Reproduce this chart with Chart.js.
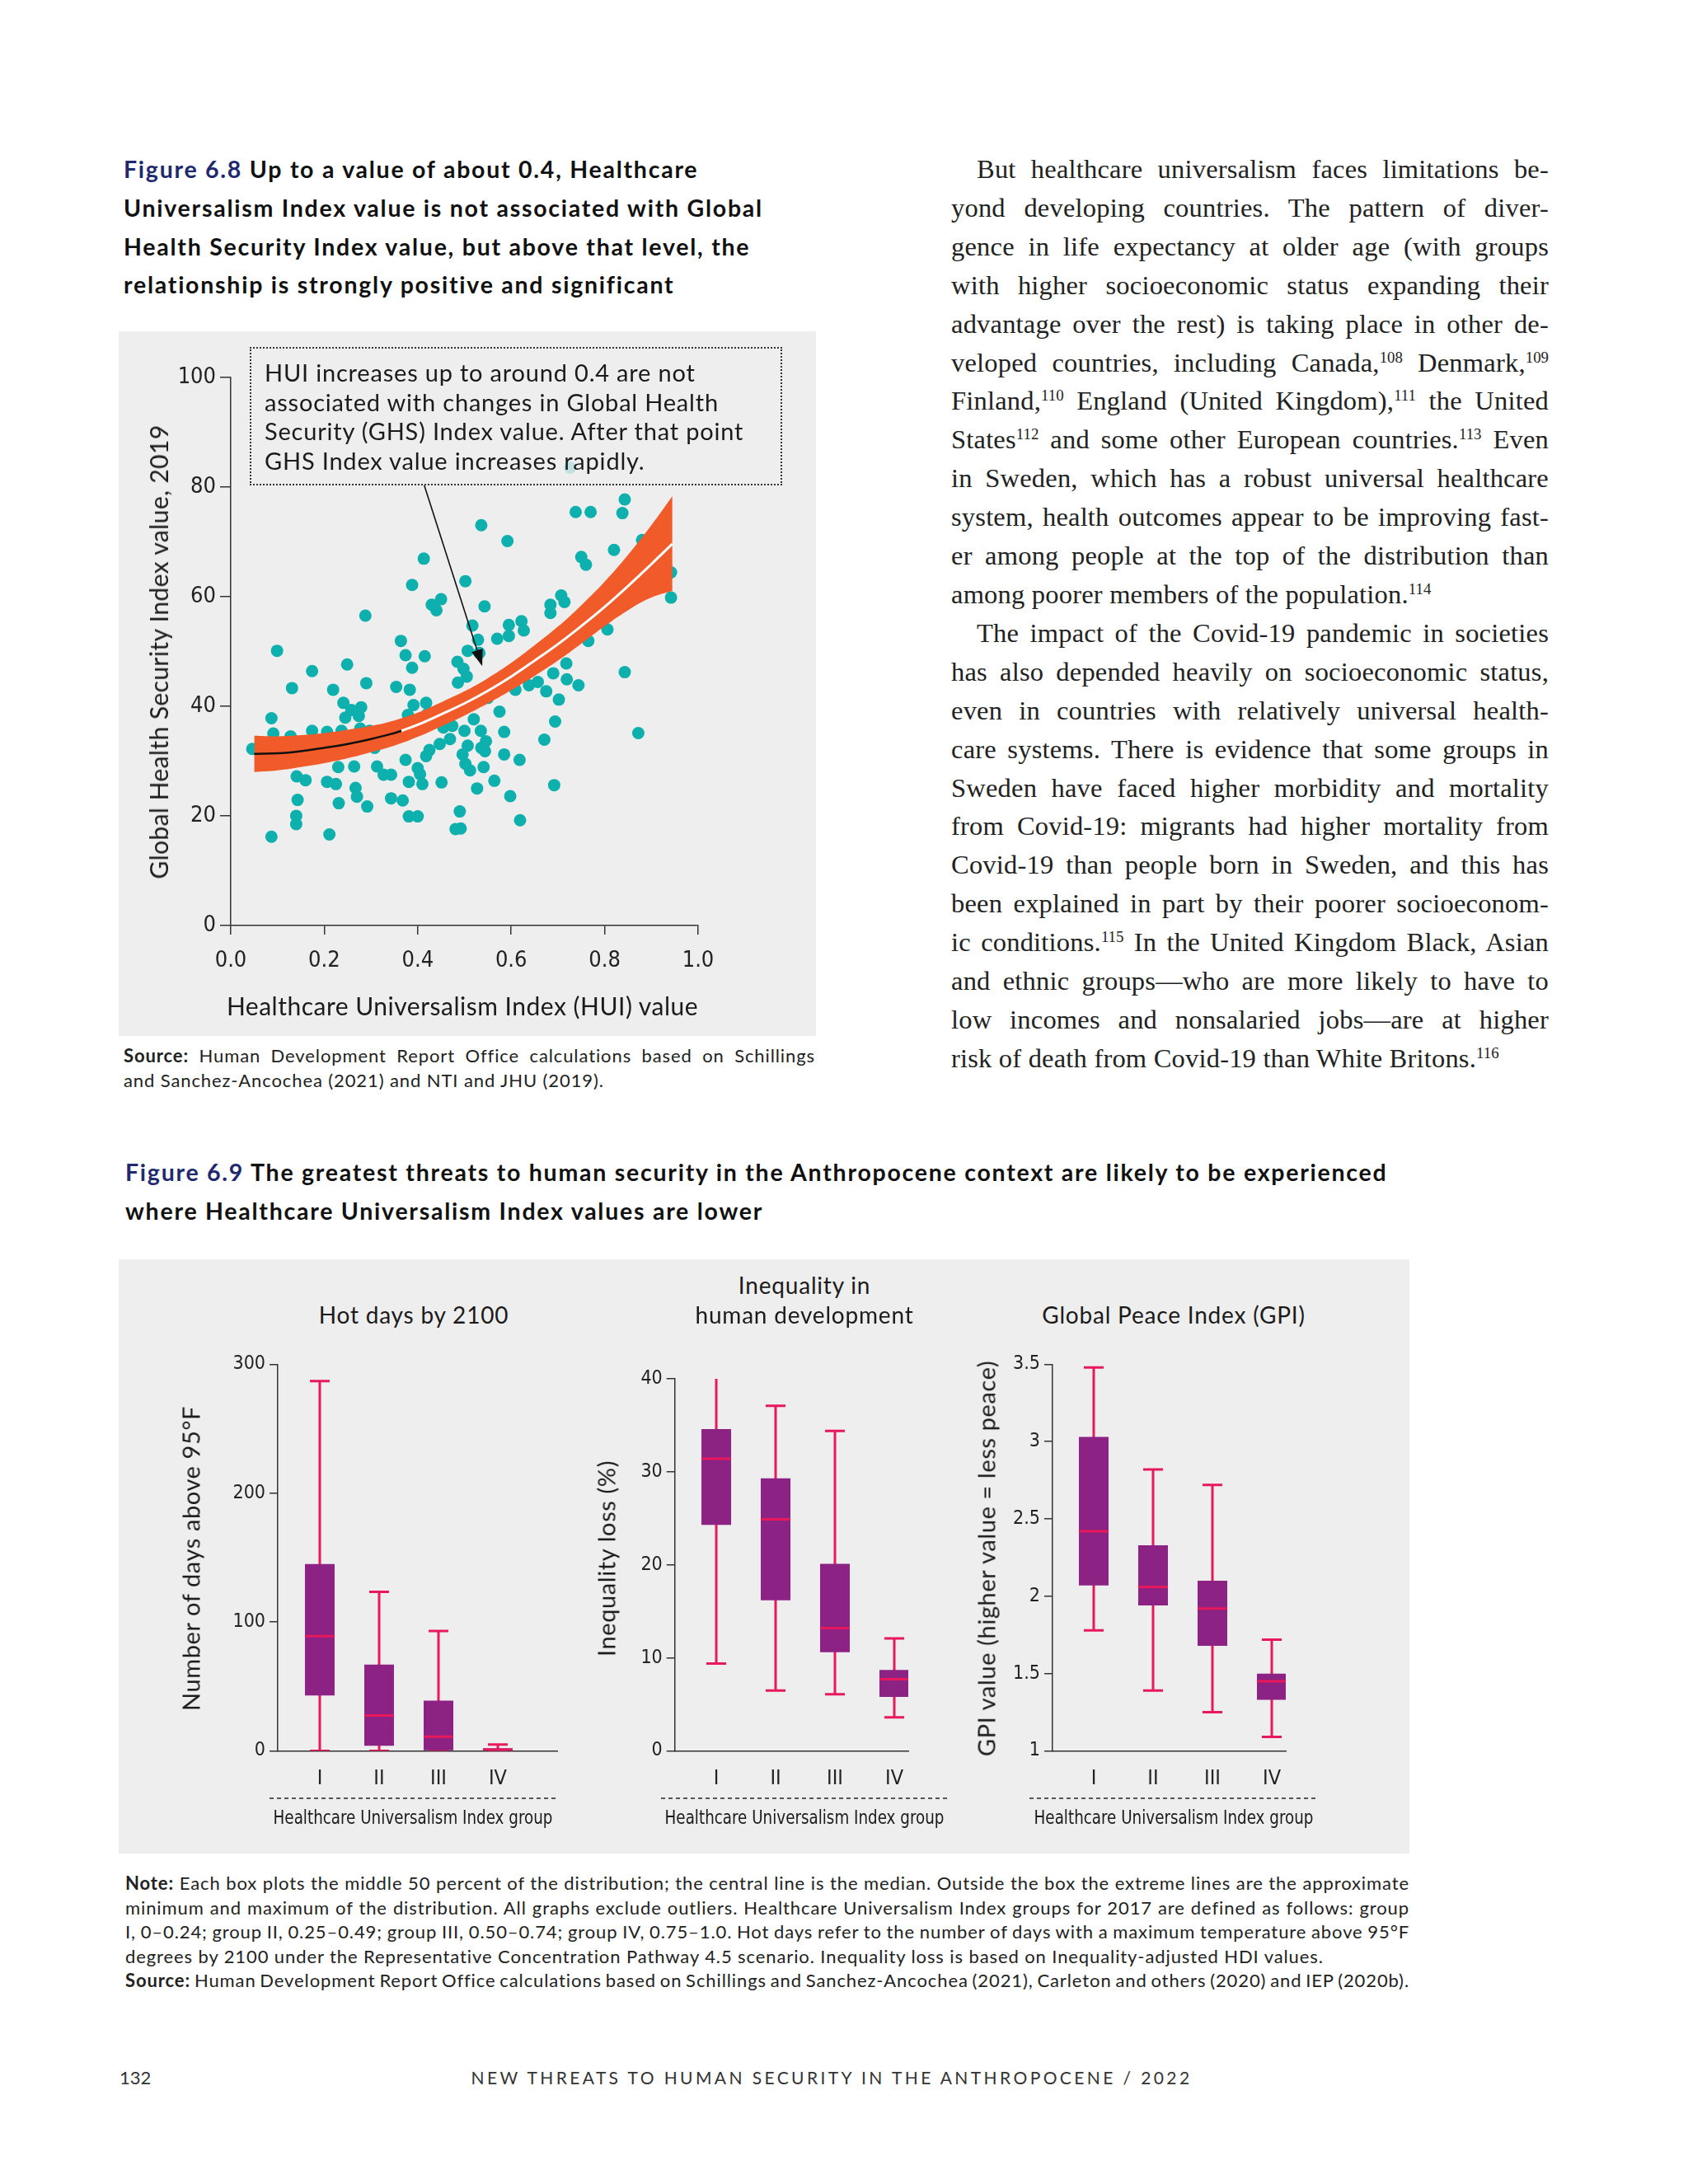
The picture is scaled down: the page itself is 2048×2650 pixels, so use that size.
<!DOCTYPE html>
<html>
<head>
<meta charset="utf-8">
<script src="https://cdn.jsdelivr.net/npm/chart.js@4.4.0/dist/chart.umd.min.js"></script>
<style>
  body { margin: 0; width: 2048px; height: 2650px; position: relative; overflow: hidden; background: #fff;
         font-family: Lato, "Noto Sans", sans-serif; color: #1b1b1b; }
  .a { position: absolute; }
  .c { position: absolute; transform: translate(-50%, -50%); white-space: nowrap; line-height: 1; }
  .r { position: absolute; transform: translate(-50%, -50%) rotate(-90deg); white-space: nowrap; line-height: 1; }
  .j { white-space: nowrap; }
  .narrow { font-family: "Liberation Sans Narrow", "Arial Narrow", "DejaVu Sans Condensed", sans-serif; }
  .panel { position: absolute; background: #efeeee; }
  .dash { position: absolute; height: 2px; background: repeating-linear-gradient(90deg, #555 0 5px, transparent 5px 9px); }
  .ftitle { position: absolute; font-weight: 700; font-size: 28.5px; letter-spacing: 1.75px; line-height: 46.8px; white-space: nowrap; color: #111; }
  .ftitle span { color: #1f2a6e; }
  .serif { position: absolute; font-family: "Liberation Serif", serif; font-size: 32.5px; letter-spacing: 0.2px; line-height: 46.9px; color: #222; }
  .small { position: absolute; font-size: 22px; letter-spacing: 0.9px; line-height: 29.6px; color: #222; }
  .ptitle { font-size: 28px; letter-spacing: 0.8px; }
  .ytitle { font-size: 29px; letter-spacing: 0.6px; }
  .grp { position: absolute; transform: translate(-50%, -50%) scaleX(0.885); white-space: nowrap; line-height: 1; font-size: 23px; }
  sup { font-size: 0.58em; line-height: 0; vertical-align: 0.6em; letter-spacing: 0; }
  canvas { position: absolute; }
</style>
</head>
<body>

<!-- Figure 6.8 -->
<div class="ftitle" style="left:150px; top:182px;">
  <span>Figure 6.8</span> Up to a value of about 0.4, Healthcare<br>
  Universalism Index value is not associated with Global<br>
  Health Security Index value, but above that level, the<br>
  relationship is strongly positive and significant
</div>

<div class="panel" style="left:144px; top:402px; width:846px; height:855px;"></div>
<canvas id="scatter" width="846" height="855" style="left:144px; top:402px;"></canvas>
<div class="a" style="left:303px; top:421px; width:646px; height:168px; box-sizing:border-box; border:2px dotted #333;
     background:rgba(239,238,238,0.8); padding:11px 0 0 16px; font-size:29px; letter-spacing:0.8px; line-height:35.7px; white-space:nowrap; color:#1b1b1b;">
  HUI increases up to around 0.4 are not<br>
  associated with changes in Global Health<br>
  Security (GHS) Index value. After that point<br>
  GHS Index value increases rapidly.
</div>
<div class="r" style="left:192px; top:791px; font-size:30px; letter-spacing:0.4px;">Global Health Security Index value, 2019</div>
<div class="c" style="left:561px; top:1220px; font-size:30px; letter-spacing:0.5px;">Healthcare Universalism Index (HUI) value</div>

<div class="small" style="left:150px; top:1266px; width:839px;">
  <div class="j"><b>Source:</b> Human Development Report Office calculations based on Schillings</div>
  <div>and Sanchez-Ancochea (2021) and NTI and JHU (2019).</div>
</div>

<!-- Right column text -->
<div class="serif" style="left:1154px; top:182px; width:725px;">
  <div class="j" style="padding-left:31px">But healthcare universalism faces limitations be-</div>
  <div class="j">yond developing countries. The pattern of diver-</div>
  <div class="j">gence in life expectancy at older age (with groups</div>
  <div class="j">with higher socioeconomic status expanding their</div>
  <div class="j">advantage over the rest) is taking place in other de-</div>
  <div class="j">veloped countries, including Canada,<sup>108</sup> Denmark,<sup>109</sup></div>
  <div class="j">Finland,<sup>110</sup> England (United Kingdom),<sup>111</sup> the United</div>
  <div class="j">States<sup>112</sup> and some other European countries.<sup>113</sup> Even</div>
  <div class="j">in Sweden, which has a robust universal healthcare</div>
  <div class="j">system, health outcomes appear to be improving fast-</div>
  <div class="j">er among people at the top of the distribution than</div>
  <div>among poorer members of the population.<sup>114</sup></div>
  <div class="j" style="padding-left:31px">The impact of the Covid-19 pandemic in societies</div>
  <div class="j">has also depended heavily on socioeconomic status,</div>
  <div class="j">even in countries with relatively universal health-</div>
  <div class="j">care systems. There is evidence that some groups in</div>
  <div class="j">Sweden have faced higher morbidity and mortality</div>
  <div class="j">from Covid-19: migrants had higher mortality from</div>
  <div class="j">Covid-19 than people born in Sweden, and this has</div>
  <div class="j">been explained in part by their poorer socioeconom-</div>
  <div class="j">ic conditions.<sup>115</sup> In the United Kingdom Black, Asian</div>
  <div class="j">and ethnic groups—who are more likely to have to</div>
  <div class="j">low incomes and nonsalaried jobs—are at higher</div>
  <div>risk of death from Covid-19 than White Britons.<sup>116</sup></div>
</div>

<!-- Figure 6.9 -->
<div class="ftitle" style="left:152px; top:1399px;">
  <span>Figure 6.9</span> The greatest threats to human security in the Anthropocene context are likely to be experienced<br>
  where Healthcare Universalism Index values are lower
</div>

<div class="panel" style="left:144px; top:1528px; width:1566px; height:721px;"></div>
<canvas id="hot" width="500" height="580" style="left:200px; top:1620px;"></canvas>
<canvas id="ineq" width="440" height="580" style="left:690px; top:1620px;"></canvas>
<canvas id="gpi" width="440" height="580" style="left:1150px; top:1620px;"></canvas>

<div class="c ptitle" style="left:502px; top:1595px;">Hot days by 2100</div>
<div class="c ptitle" style="left:976px; top:1559px;">Inequality in</div>
<div class="c ptitle" style="left:976px; top:1595px;">human development</div>
<div class="c ptitle" style="left:1424px; top:1595px;">Global Peace Index (GPI)</div>

<div class="r ytitle" style="left:231px; top:1891px;">Number of days above 95°F</div>
<div class="r ytitle" style="left:735px; top:1891px;">Inequality loss (%)</div>
<div class="r ytitle" style="left:1196px; top:1891px;">GPI value (higher value = less peace)</div>

<div class="dash" style="left:327px; top:2181px; width:349px;"></div>
<div class="dash" style="left:802px; top:2181px; width:348px;"></div>
<div class="dash" style="left:1249px; top:2181px; width:348px;"></div>
<div class="grp narrow" style="left:501px; top:2205px;">Healthcare Universalism Index group</div>
<div class="grp narrow" style="left:976px; top:2205px;">Healthcare Universalism Index group</div>
<div class="grp narrow" style="left:1424px; top:2205px;">Healthcare Universalism Index group</div>

<div class="small" style="left:152px; top:2270px; width:1558px;">
  <div class="j"><b>Note:</b> Each box plots the middle 50 percent of the distribution; the central line is the median. Outside the box the extreme lines are the approximate</div>
  <div class="j">minimum and maximum of the distribution. All graphs exclude outliers. Healthcare Universalism Index groups for 2017 are defined as follows: group</div>
  <div class="j">I, 0–0.24; group II, 0.25–0.49; group III, 0.50–0.74; group IV, 0.75–1.0. Hot days refer to the number of days with a maximum temperature above 95°F</div>
  <div>degrees by 2100 under the Representative Concentration Pathway 4.5 scenario. Inequality loss is based on Inequality-adjusted HDI values.</div>
  <div class="j"><b>Source:</b> Human Development Report Office calculations based on Schillings and Sanchez-Ancochea (2021), Carleton and others (2020) and IEP (2020b).</div>
</div>

<div class="a" style="left:145px; top:2507px; font-size:22px; color:#333;">132</div>
<div class="c" style="left:1009px; top:2520px; font-size:21px; letter-spacing:3.4px; color:#333;">NEW THREATS TO HUMAN SECURITY IN THE ANTHROPOCENE / 2022</div>

<script>
// ---- Figure 6.8 data ----
const huiValues = [
  0.046, 0.087, 0.091, 0.087, 0.099, 0.131, 0.128, 0.141, 0.160, 0.143, 0.140, 0.140, 0.174, 0.174, 0.206,
  0.206, 0.211, 0.219, 0.225, 0.230, 0.231, 0.237, 0.241, 0.245, 0.249, 0.258, 0.274, 0.279, 0.264, 0.267,
  0.270, 0.288, 0.290, 0.292, 0.297, 0.308, 0.313, 0.327, 0.343, 0.343, 0.354, 0.364, 0.368, 0.374, 0.374,
  0.379, 0.381, 0.383, 0.388, 0.388, 0.381, 0.391, 0.400, 0.400, 0.405, 0.410, 0.413, 0.415, 0.418, 0.418,
  0.425, 0.430, 0.440, 0.450, 0.447, 0.451, 0.455, 0.469, 0.474, 0.485, 0.486, 0.490, 0.481, 0.492, 0.496,
  0.498, 0.502, 0.502, 0.500, 0.505, 0.507, 0.507, 0.512, 0.517, 0.520, 0.527, 0.529, 0.532, 0.535, 0.536,
  0.536, 0.541, 0.543, 0.546, 0.544, 0.564, 0.570, 0.575, 0.585, 0.585, 0.592, 0.595, 0.595, 0.598, 0.609,
  0.618, 0.619, 0.622, 0.627, 0.638, 0.657, 0.671, 0.675, 0.684, 0.684, 0.690, 0.692, 0.694, 0.702, 0.707,
  0.714, 0.718, 0.719, 0.738, 0.744, 0.750, 0.760, 0.765, 0.770, 0.806, 0.820, 0.838, 0.843, 0.843, 0.872,
  0.880, 0.942, 0.942, 0.726, 0.120, 0.180, 0.220, 0.277, 0.330, 0.420, 0.460, 0.550, 0.600, 0.640
];
const ghsValues = [
  32.2, 37.8, 35.0, 16.2, 50.1, 43.3, 34.5, 27.2, 26.5, 22.9, 20.0, 18.5, 46.4, 35.5, 35.3,
  26.2, 16.6, 43.0, 25.8, 28.9, 22.3, 35.5, 40.6, 37.9, 47.6, 39.3, 38.2, 39.8, 29.0, 25.1,
  23.5, 56.5, 44.2, 21.7, 35.5, 32.4, 29.0, 27.5, 27.5, 23.2, 43.5, 51.9, 22.8, 49.3, 30.2,
  38.4, 26.2, 43.0, 62.1, 47.0, 19.9, 40.2, 28.7, 19.9, 27.6, 25.8, 66.9, 49.1, 40.6, 30.9,
  32.0, 58.5, 57.5, 59.5, 33.1, 26.1, 36.1, 34.0, 36.4, 48.1, 44.3, 20.8, 17.6, 17.7, 31.2,
  46.8, 62.8, 29.5, 35.5, 45.4, 50.1, 32.8, 28.3, 54.7, 37.6, 25.0, 52.1, 49.7, 35.5, 73.0,
  32.4, 28.9, 58.2, 33.6, 31.8, 26.4, 52.3, 39.0, 35.3, 31.2, 70.1, 54.8, 52.8, 23.6, 43.0,
  30.2, 19.2, 55.5, 53.8, 43.8, 44.4, 33.9, 42.7, 58.5, 57.0, 46.0, 25.6, 37.2, 41.2, 60.2,
  59.0, 47.8, 44.9, 75.4, 43.8, 67.2, 65.8, 51.9, 75.4, 54.0, 68.5, 75.2, 77.7, 46.2, 35.1,
  70.3, 64.4, 59.8, 83.5, 31.5, 32.5, 33.0, 35.9, 33.5, 38.5, 39.0, 41.5, 44.5, 47.0
];
const bandX     = [0.05, 0.1, 0.15, 0.2, 0.25, 0.3, 0.35, 0.4, 0.45, 0.5, 0.55, 0.6, 0.65, 0.7, 0.75, 0.8, 0.85, 0.9, 0.945];
const bandUpper = [34.6, 34.5, 34.7, 35.1, 35.7, 36.4, 37.4, 38.8, 40.7, 42.7, 45.1, 47.9, 51.1, 54.5, 58.4, 62.7, 67.6, 73.0, 78.3];
const bandLower = [28.0, 28.3, 28.9, 29.6, 30.5, 31.6, 32.8, 34.4, 36.3, 38.3, 40.5, 42.9, 45.5, 48.3, 51.4, 54.6, 57.5, 59.8, 61.0];
const fitX = [0.05, 0.1, 0.15, 0.2, 0.25, 0.3, 0.35, 0.365, 0.4, 0.45, 0.5, 0.55, 0.6, 0.65, 0.7, 0.75, 0.8, 0.85, 0.9, 0.945];
const fitY = [31.3, 31.4, 31.8, 32.4, 33.1, 34.0, 35.1, 35.5, 36.6, 38.5, 40.5, 42.8, 45.4, 48.3, 51.3, 54.6, 58.1, 61.9, 65.9, 69.6];
const fitSplit = 0.365;
const arrowFrom = [0.414, 80.3];
const arrowTo = [0.538, 47.3];

// ---- Figure 6.9 data (box plots by HUI group) ----
const groups = ['I', 'II', 'III', 'IV'];
const hotMin = [0, 0, 0, 0];
const hotQ1  = [43, 4, 0, 0];
const hotMed = [89, 27.5, 11, 1];
const hotQ3  = [145, 67, 39, 2];
const hotMax = [287, 123.5, 93, 5];

const ineqMin = [9.4, 6.5, 6.1, 3.6];
const ineqQ1  = [24.3, 16.2, 10.6, 5.8];
const ineqMed = [31.4, 24.9, 13.2, 7.7];
const ineqQ3  = [34.6, 29.3, 20.1, 8.7];
const ineqMax = [41.6, 37.1, 34.4, 12.1];

const gpiMin = [1.78, 1.39, 1.25, 1.09];
const gpiQ1  = [2.07, 1.94, 1.68, 1.33];
const gpiMed = [2.42, 2.06, 1.92, 1.45];
const gpiQ3  = [3.03, 2.33, 2.10, 1.50];
const gpiMax = [3.48, 2.82, 2.72, 1.72];

const TEAL = '#0db0ac', ORANGE = '#f15a29', PURPLE = '#8c2284', PINK = '#e8185c', AXIS = '#333';
const tickFont = { family: '"Liberation Sans Narrow", "Arial Narrow", "DejaVu Sans Condensed", sans-serif' };

Chart.defaults.animation = false;
Chart.defaults.responsive = false;
Chart.defaults.devicePixelRatio = 1;
Chart.defaults.color = '#222';
Chart.defaults.plugins.legend.display = false;
Chart.defaults.plugins.tooltip.enabled = false;

const toPoints = (xs, ys) => xs.map((x, i) => ({ x: x, y: ys[i] }));

const arrowPlugin = {
  id: 'calloutArrow',
  afterDatasetsDraw(chart) {
    const { ctx, scales: { x, y } } = chart;
    const x1 = x.getPixelForValue(arrowFrom[0]), y1 = y.getPixelForValue(arrowFrom[1]);
    const x2 = x.getPixelForValue(arrowTo[0]), y2 = y.getPixelForValue(arrowTo[1]);
    const ang = Math.atan2(y2 - y1, x2 - x1);
    const head = 20, half = 7;
    const bx = x2 - head * Math.cos(ang), by = y2 - head * Math.sin(ang);
    ctx.save();
    ctx.strokeStyle = '#111';
    ctx.lineWidth = 1.6;
    ctx.beginPath();
    ctx.moveTo(x1, y1);
    ctx.lineTo(bx, by);
    ctx.stroke();
    ctx.fillStyle = '#111';
    ctx.beginPath();
    ctx.moveTo(x2, y2);
    ctx.lineTo(bx + half * Math.sin(ang), by - half * Math.cos(ang));
    ctx.lineTo(bx - half * Math.sin(ang), by + half * Math.cos(ang));
    ctx.closePath();
    ctx.fill();
    ctx.restore();
  }
};

const fitPts = toPoints(fitX, fitY);

new Chart(document.getElementById('scatter'), {
  type: 'scatter',
  data: {
    datasets: [
      { data: fitPts.filter(p => p.x <= fitSplit), showLine: true, borderColor: '#111', borderWidth: 2.5,
        pointRadius: 0, tension: 0.4, order: 0 },
      { data: fitPts.filter(p => p.x >= fitSplit), showLine: true, borderColor: '#fff', borderWidth: 3,
        pointRadius: 0, tension: 0.4, order: 0 },
      { data: toPoints(bandX, bandUpper), showLine: true, borderWidth: 0, pointRadius: 0, tension: 0.4,
        fill: '+1', backgroundColor: ORANGE, order: 1 },
      { data: toPoints(bandX, bandLower), showLine: true, borderWidth: 0, pointRadius: 0, tension: 0.4,
        fill: false, order: 1 },
      { data: toPoints(huiValues, ghsValues), backgroundColor: TEAL, borderWidth: 0, pointRadius: 7.5, order: 2 }
    ]
  },
  options: {
    layout: { padding: { top: 55.6, right: 143, left: 0, bottom: 0 } },
    scales: {
      x: {
        type: 'linear', min: 0, max: 1,
        ticks: { stepSize: 0.2, callback: v => v.toFixed(1), font: { ...tickFont, size: 27 }, padding: 16, color: '#222' },
        grid: { drawOnChartArea: false, drawTicks: true, tickLength: 11, color: AXIS, lineWidth: 1.5 },
        border: { color: AXIS, width: 1.5 },
        afterFit: s => { s.height = 134; }
      },
      y: {
        min: 0, max: 100,
        ticks: { stepSize: 20, font: { ...tickFont, size: 27 }, padding: 5, color: '#222' },
        grid: { drawOnChartArea: false, drawTicks: true, tickLength: 13, color: AXIS, lineWidth: 1.5 },
        border: { color: AXIS, width: 1.5 },
        afterFit: s => { s.width = 136; }
      }
    }
  },
  plugins: [arrowPlugin]
});

function boxChart(id, mins, q1s, meds, q3s, maxs, yRange, xRange, box) {
  const at = vals => groups.map((g, i) => ({ x: i + 1, y: vals[i] }));
  const span = (lo, hi) => groups.map((g, i) => ({ x: i + 1, y: [lo[i], hi[i]] }));
  new Chart(document.getElementById(id), {
    type: 'bar',
    data: {
      datasets: [
        { type: 'scatter', data: at(meds), pointStyle: 'line', pointRadius: 18, pointBorderWidth: 3,
          pointBorderColor: PINK, order: 0 },
        { data: span(q1s, q3s), backgroundColor: PURPLE, grouped: false, maxBarThickness: 36, order: 1 },
        { type: 'scatter', data: at(mins).concat(at(maxs)), pointStyle: 'line', pointRadius: 12,
          pointBorderWidth: 3, pointBorderColor: PINK, order: 2 },
        { data: span(mins, maxs), backgroundColor: PINK, grouped: false, maxBarThickness: 3, order: 3 }
      ]
    },
    options: {
      layout: { padding: { top: box.top, right: box.right, left: 0, bottom: 0 } },
      scales: {
        x: {
          type: 'linear', min: xRange[0], max: xRange[1], offset: false,
          afterBuildTicks: s => { s.ticks = groups.map((g, i) => ({ value: i + 1 })); },
          ticks: { callback: v => groups[v - 1] || '', font: { ...tickFont, size: 25 }, padding: 19,
                   color: '#222', autoSkip: false, maxRotation: 0 },
          grid: { display: false, drawTicks: false, offset: false },
          border: { color: AXIS, width: 1.5 },
          afterFit: s => { s.height = 75.5; }
        },
        y: {
          min: yRange[0], max: yRange[1],
          ticks: { stepSize: yRange[2], callback: v => String(v), font: { ...tickFont, size: 23 }, padding: 5, color: '#222' },
          grid: { drawOnChartArea: false, drawTicks: true, tickLength: 10, color: AXIS, lineWidth: 1.5 },
          border: { color: AXIS, width: 1.5 },
          afterFit: s => { s.width = box.yWidth; }
        }
      }
    }
  });
}

boxChart('hot', hotMin, hotQ1, hotMed, hotQ3, hotMax, [0, 300, 100], [0.292, 5.0], { top: 35.4, right: 24, yWidth: 137 });
boxChart('ineq', ineqMin, ineqQ1, ineqMed, ineqQ3, ineqMax, [0, 40, 10], [0.301, 4.236], { top: 53, right: 28, yWidth: 128.7 });
boxChart('gpi', gpiMin, gpiQ1, gpiMed, gpiQ3, gpiMax, [1, 3.5, 0.5], [0.306, 4.236], { top: 35.4, right: 30, yWidth: 127 });

// stretch word gaps so each typeset line fills its column exactly
function justifyLines() {
  document.querySelectorAll('.j').forEach(el => {
    el.style.wordSpacing = '0px';
    const pad = parseFloat(getComputedStyle(el).paddingLeft) || 0;
    const target = el.clientWidth - pad;
    const range = document.createRange();
    range.selectNodeContents(el);
    const natural = range.getBoundingClientRect().width;
    const gaps = (el.textContent.match(/ /g) || []).length;
    if (gaps) el.style.wordSpacing = ((target - natural) / gaps) + 'px';
  });
}
justifyLines();
if (document.fonts) document.fonts.ready.then(justifyLines);
</script>
</body>
</html>
